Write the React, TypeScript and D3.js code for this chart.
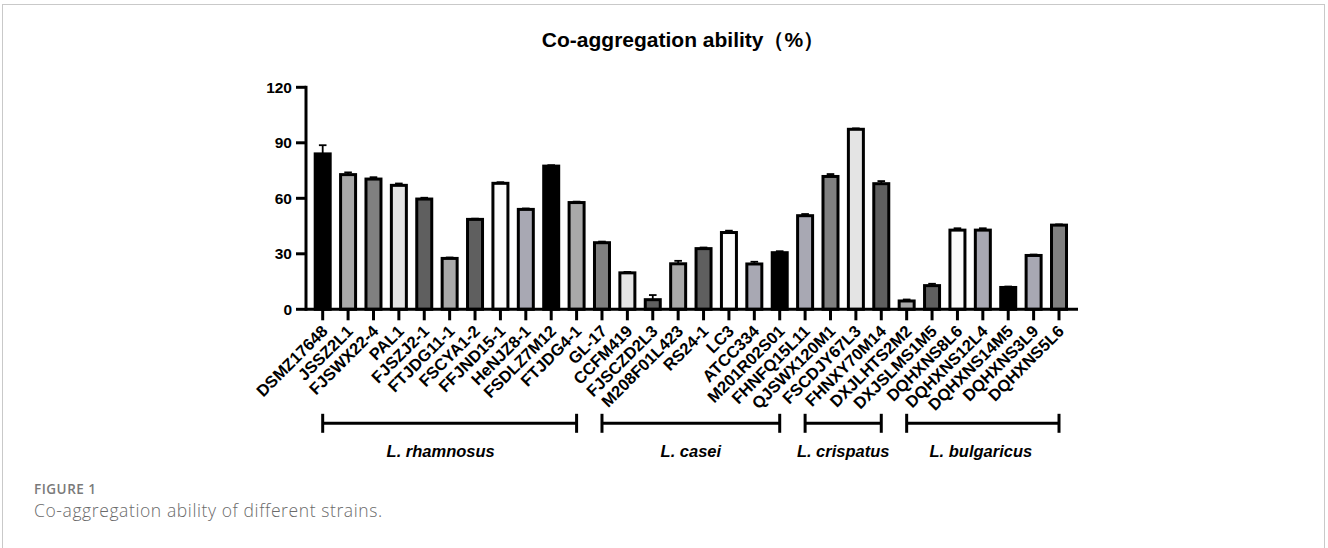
import React from "react";
import * as d3 from "d3";

const strains = [
  "DSMZ17648", "JSSZ2L1", "FJSWX22-4", "PAL1", "FJSZJ2-1", "FTJDG11-1", "FSCYA1-2", "FFJND15-1", "HeNJZ8-1", "FSDLZ7M12", "FTJDG4-1",
  "GL-17", "CCFM419", "FJSCZD2L3", "M208F01L423", "RS24-1", "LC3", "ATCC334", "M201R02S01",
  "FHNFQ15L11", "QJSWX120M1", "FSCDJY67L3", "FHNXY70M14",
  "DXJLHTS2M2", "DXJSLMS1M5", "DQHXNS8L6", "DQHXNS12L4", "DQHXNS14M5", "DQHXNS3L9", "DQHXNS5L6",
];
const values = [
  84, 72.8, 70.4, 67, 59.6, 27.5, 48.6, 68.1, 54, 77.4, 57.7,
  36, 19.7, 5.2, 24.6, 32.8, 41.5, 24.5, 30.6,
  50.6, 71.8, 97.3, 67.9,
  4.5, 12.8, 42.8, 42.8, 11.8, 29.1, 45.5,
];
const errors = [
  4.7, 1.2, 1, 1, 0.7, 0.5, 0.4, 0.6, 0.5, 0.5, 0.5,
  0.6, 0.5, 2.5, 1.6, 0.6, 1, 1.2, 0.8,
  0.9, 1.3, 0.5, 1.4,
  0.8, 1, 1, 1, 0.5, 0.5, 0.4,
];
const fills = [
  "#000000", "#a9a9a9", "#808080", "#e4e4e4", "#5f5f5f", "#a9a9a9", "#5f5f5f", "#fbfbfb", "#a8a8b3", "#000000", "#a9a9a9",
  "#808080", "#e4e4e4", "#5f5f5f", "#a9a9a9", "#5f5f5f", "#fbfbfb", "#a8a8b3", "#000000",
  "#a8a8b3", "#808080", "#e4e4e4", "#5f5f5f",
  "#a9a9a9", "#5f5f5f", "#fbfbfb", "#a8a8b3", "#000000", "#a8a8b3", "#808080",
];
const yTicks = [0, 30, 60, 90, 120];
const groupNames = ["L. rhamnosus", "L. casei", "L. crispatus", "L. bulgaricus"];
const groupFirst = ["DSMZ17648", "GL-17", "FHNFQ15L11", "DXJLHTS2M2"];
const groupLast = ["FTJDG4-1", "M201R02S01", "FHNXY70M14", "DQHXNS5L6"];

const FONT = "'Liberation Sans', Arial, Helvetica, sans-serif";
const CAPFONT = "'Open Sans', 'Noto Sans', sans-serif";

export default function App() {
  const W = 1328, H = 548;
  const step = 25.39;
  const x0 = 310;
  const x = d3.scaleBand<string>().domain(strains).range([x0, x0 + step * strains.length]).padding(0);
  const y = d3.scaleLinear().domain([0, 120]).range([309.3, 87.3]);
  const cx = (s: string) => (x(s) as number) + x.bandwidth() / 2;
  const barW = 15;
  const axisX = 306;
  const axisEnd = 1078;
  const bracketY = 423.3;
  const labelShift = (i: number) => (i === 0 ? -9 : i === 3 ? -2 : 0);

  return (
    <svg width={W} height={H} style={{ position: "absolute", left: 0, top: 0, background: "#fff" }}>
      <rect x={2.5} y={4.5} width={1322} height={600} fill="none" stroke="#c9c9c9" strokeWidth={1} />
      <text x={683} y={46.5} textAnchor="middle" fontFamily={FONT} fontWeight="bold" fontSize={21} fill="#000">
        Co-aggregation ability（%）
      </text>

      {/* bars */}
      {strains.map((s, i) => {
        const top = y(values[i]);
        const errTop = y(values[i] + errors[i]);
        return (
          <g key={s}>
            <line x1={cx(s)} x2={cx(s)} y1={top} y2={errTop} stroke="#000" strokeWidth={1.8} />
            <line x1={cx(s) - 3.8} x2={cx(s) + 3.8} y1={errTop} y2={errTop} stroke="#000" strokeWidth={1.8} />
            <rect x={cx(s) - barW / 2} y={top} width={barW} height={y(0) - top} fill={fills[i]} stroke="#000" strokeWidth={3} />
          </g>
        );
      })}

      {/* y axis */}
      <line x1={axisX} x2={axisX} y1={y(120) - 1.5} y2={y(0) + 1.5} stroke="#000" strokeWidth={3} />
      {yTicks.map((t) => (
        <g key={t}>
          <line x1={axisX - 10} x2={axisX} y1={y(t)} y2={y(t)} stroke="#000" strokeWidth={3} />
          <text x={axisX - 14} y={y(t)} dy="0.36em" textAnchor="end" fontFamily={FONT} fontWeight="bold" fontSize={15.5} fill="#000">
            {t}
          </text>
        </g>
      ))}

      {/* x axis */}
      <line x1={axisX} x2={axisEnd} y1={y(0)} y2={y(0)} stroke="#000" strokeWidth={3} />
      {strains.map((s) => (
        <g key={"t" + s}>
          <line x1={cx(s)} x2={cx(s)} y1={y(0)} y2={y(0) + 11} stroke="#000" strokeWidth={3} />
          <text
            transform={`translate(${cx(s) + 6},${y(0) + 23}) rotate(-45)`}
            textAnchor="end"
            fontFamily={FONT}
            fontWeight="bold"
            fontSize={16.5}
            fill="#000"
          >
            {s}
          </text>
        </g>
      ))}

      {/* group brackets */}
      {groupNames.map((g, i) => {
        const a = cx(groupFirst[i]);
        const b = cx(groupLast[i]);
        return (
          <g key={g}>
            <line x1={a} x2={b} y1={bracketY} y2={bracketY} stroke="#000" strokeWidth={3} />
            <line x1={a} x2={a} y1={bracketY - 9.5} y2={bracketY + 9.5} stroke="#000" strokeWidth={3} />
            <line x1={b} x2={b} y1={bracketY - 9.5} y2={bracketY + 9.5} stroke="#000" strokeWidth={3} />
            <text x={(a + b) / 2 + labelShift(i)} y={bracketY + 28} dy="0.36em" textAnchor="middle" fontFamily={FONT} fontWeight="bold" fontStyle="italic" fontSize={16.5} fill="#000">
              {g}
            </text>
          </g>
        );
      })}

      {/* caption */}
      <text x={34} y={494} fontFamily={CAPFONT} fontWeight={600} fontSize={13.5} letterSpacing={0.5} fill="#7a7a7a">
        FIGURE 1
      </text>
      <text x={34} y={517} fontFamily={CAPFONT} fontWeight={300} fontSize={17.5} letterSpacing={0.6} fill="#6a6a6a">
        Co-aggregation ability of different strains.
      </text>
    </svg>
  );
}
